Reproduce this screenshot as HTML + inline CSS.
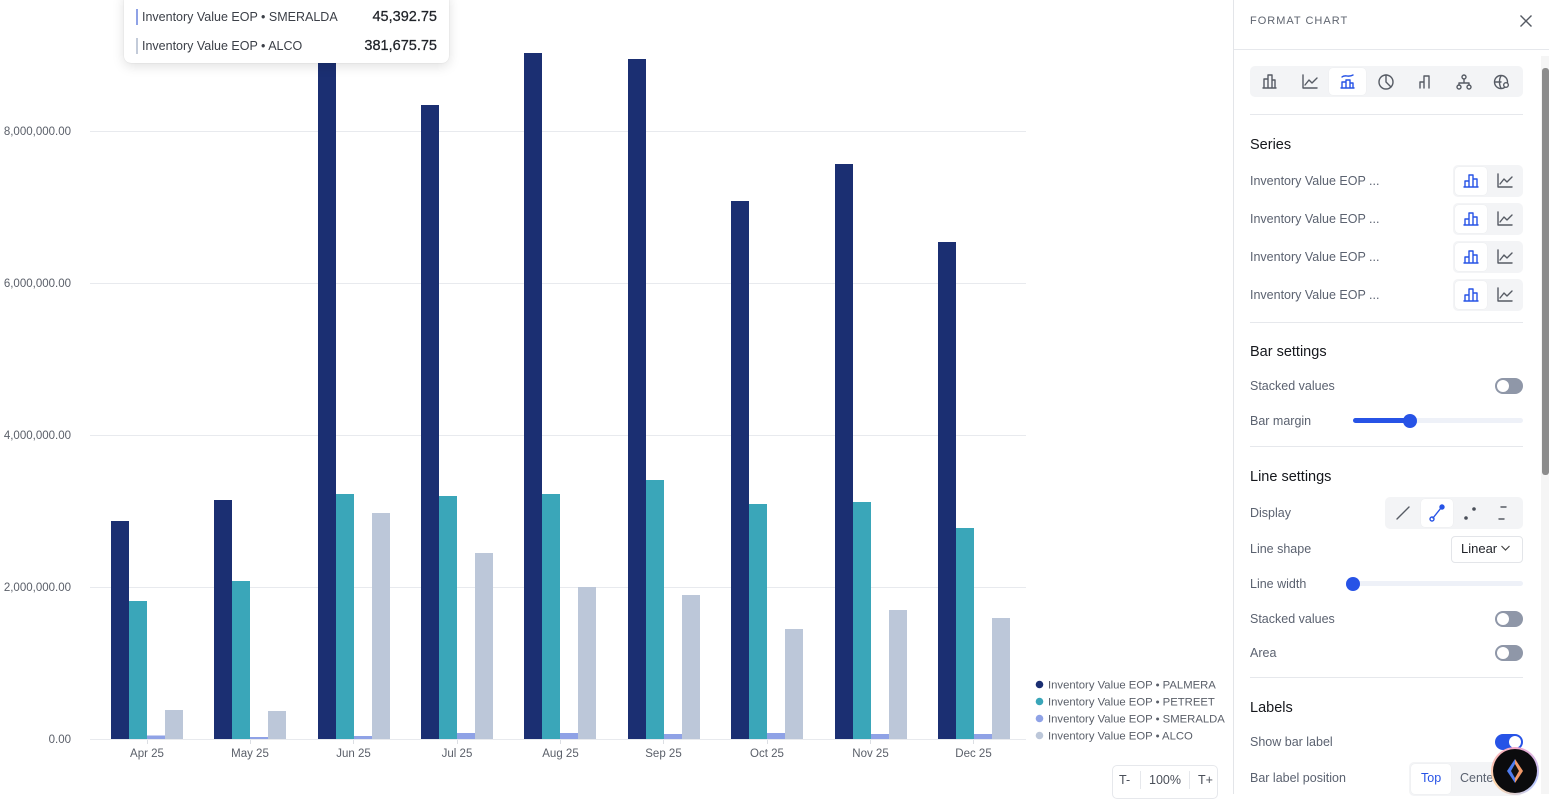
<!DOCTYPE html>
<html><head><meta charset="utf-8">
<style>
*{margin:0;padding:0;box-sizing:border-box}
html,body{width:1549px;height:794px;overflow:hidden;background:#fff;font-family:"Liberation Sans",sans-serif}
.a{position:absolute;white-space:nowrap}
.lbl{font-size:12.5px;color:#5b6270;line-height:16px}
.h{font-size:14.5px;color:#15171c;line-height:18px}
.div{position:absolute;height:1px;background:#e6e8ec}
.tog{position:absolute;width:28px;height:16px;border-radius:8px;background:#8f97a8}
.tog::after{content:"";position:absolute;top:2px;left:2px;width:12px;height:12px;border-radius:50%;background:#fff}
.tog.on{background:#2753e6}
.tog.on::after{left:14px}
.seg{position:absolute;background:#f3f4f6;border-radius:5px}
.tile{position:absolute;background:#fff;border-radius:4px;box-shadow:0 0 1px rgba(0,0,0,0.08)}
</style></head><body>

<!-- CHART -->
<svg class="a" style="left:0;top:0" width="1233" height="794" viewBox="0 0 1233 794">
  <g stroke="#e8eaee" stroke-width="1">
    <line x1="90" y1="131.5" x2="1026" y2="131.5"/>
    <line x1="90" y1="283.5" x2="1026" y2="283.5"/>
    <line x1="90" y1="435.5" x2="1026" y2="435.5"/>
    <line x1="90" y1="587.5" x2="1026" y2="587.5"/>
    <line x1="90" y1="739.5" x2="1026" y2="739.5"/>
  </g>
  <g stroke="#dcdfe4" stroke-width="1">
    <line x1="147.5" y1="740" x2="147.5" y2="744"/>
    <line x1="250.5" y1="740" x2="250.5" y2="744"/>
    <line x1="353.5" y1="740" x2="353.5" y2="744"/>
    <line x1="457.5" y1="740" x2="457.5" y2="744"/>
    <line x1="560.5" y1="740" x2="560.5" y2="744"/>
    <line x1="663.5" y1="740" x2="663.5" y2="744"/>
    <line x1="767.5" y1="740" x2="767.5" y2="744"/>
    <line x1="870.5" y1="740" x2="870.5" y2="744"/>
    <line x1="973.5" y1="740" x2="973.5" y2="744"/>
  </g>
  <g font-family="Liberation Sans, sans-serif" font-size="11.5" fill="#5a5f69" text-anchor="end">
    <text x="71" y="135">8,000,000.00</text>
    <text x="71" y="287">6,000,000.00</text>
    <text x="71" y="439">4,000,000.00</text>
    <text x="71" y="591">2,000,000.00</text>
    <text x="71" y="743">0.00</text>
  </g>
  <g font-family="Liberation Sans, sans-serif" font-size="11.5" fill="#5a5f69" text-anchor="middle">
    <text x="147" y="757">Apr 25</text>
    <text x="250" y="757">May 25</text>
    <text x="353.5" y="757">Jun 25</text>
    <text x="457" y="757">Jul 25</text>
    <text x="560.5" y="757">Aug 25</text>
    <text x="663.5" y="757">Sep 25</text>
    <text x="767" y="757">Oct 25</text>
    <text x="870.5" y="757">Nov 25</text>
    <text x="973.5" y="757">Dec 25</text>
  </g>
  <!-- bars -->
  <g fill="#1b2f72">
    <rect x="111" y="521" width="18" height="218"/>
    <rect x="214" y="500" width="18" height="239"/>
    <rect x="318" y="20" width="18" height="719"/>
    <rect x="421" y="105" width="18" height="634"/>
    <rect x="524" y="53" width="18" height="686"/>
    <rect x="628" y="59" width="18" height="680"/>
    <rect x="731" y="201" width="18" height="538"/>
    <rect x="835" y="164" width="18" height="575"/>
    <rect x="938" y="242" width="18" height="497"/>
  </g>
  <g fill="#3aa6b9">
    <rect x="129" y="601" width="18" height="138"/>
    <rect x="232" y="581" width="18" height="158"/>
    <rect x="336" y="494" width="18" height="245"/>
    <rect x="439" y="496" width="18" height="243"/>
    <rect x="542" y="494" width="18" height="245"/>
    <rect x="646" y="480" width="18" height="259"/>
    <rect x="749" y="504" width="18" height="235"/>
    <rect x="853" y="502" width="18" height="237"/>
    <rect x="956" y="528" width="18" height="211"/>
  </g>
  <g fill="#8fa2e6">
    <rect x="147" y="735.5" width="18" height="3.5"/>
    <rect x="250" y="737" width="18" height="2"/>
    <rect x="354" y="736" width="18" height="3"/>
    <rect x="457" y="733" width="18" height="6"/>
    <rect x="560" y="733" width="18" height="6"/>
    <rect x="664" y="734" width="18" height="5"/>
    <rect x="767" y="733" width="18" height="6"/>
    <rect x="871" y="734" width="18" height="5"/>
    <rect x="974" y="734" width="18" height="5"/>
  </g>
  <g fill="#bcc7d9">
    <rect x="165" y="710" width="18" height="29"/>
    <rect x="268" y="711" width="18" height="28"/>
    <rect x="372" y="513" width="18" height="226"/>
    <rect x="475" y="553" width="18" height="186"/>
    <rect x="578" y="587" width="18" height="152"/>
    <rect x="682" y="595" width="18" height="144"/>
    <rect x="785" y="629" width="18" height="110"/>
    <rect x="889" y="610" width="18" height="129"/>
    <rect x="992" y="618" width="18" height="121"/>
  </g>
  <!-- legend -->
  <circle cx="1039.5" cy="684.5" r="3.8" fill="#1b2f72"/>
  <circle cx="1039.5" cy="701.5" r="3.8" fill="#3aa6b9"/>
  <circle cx="1039.5" cy="718.5" r="3.8" fill="#8fa2e6"/>
  <circle cx="1039.5" cy="735.5" r="3.8" fill="#bcc7d9"/>
  <g font-family="Liberation Sans, sans-serif" font-size="11.3" fill="#5a5f69">
    <text x="1048" y="688.5">Inventory Value EOP • PALMERA</text>
    <text x="1048" y="705.5">Inventory Value EOP • PETREET</text>
    <text x="1048" y="722.5">Inventory Value EOP • SMERALDA</text>
    <text x="1048" y="739.5">Inventory Value EOP • ALCO</text>
  </g>
</svg>

<!-- tooltip -->
<div class="a" style="left:124px;top:-8px;width:325px;height:71px;background:#fff;border-radius:7px;box-shadow:0 3px 12px rgba(0,0,0,0.13),0 0 1px rgba(0,0,0,0.15)"></div>
<div class="a" style="left:136px;top:9px;width:2px;height:16px;background:#8fa2e6"></div>
<div class="a" style="left:136px;top:38px;width:2px;height:16px;background:#c3cbd9"></div>
<div class="a" style="left:142px;top:9px;font-size:12.5px;line-height:16px;color:#3b3f47">Inventory Value EOP • SMERALDA</div>
<div class="a" style="left:142px;top:38px;font-size:12.5px;line-height:16px;color:#3b3f47">Inventory Value EOP • ALCO</div>
<div class="a" style="right:1112px;top:8px;font-size:14.5px;line-height:18px;color:#1f2228;-webkit-text-stroke:0.25px #1f2228">45,392.75</div>
<div class="a" style="right:1112px;top:37px;font-size:14.5px;line-height:18px;color:#1f2228;-webkit-text-stroke:0.25px #1f2228">381,675.75</div>

<!-- zoom control -->
<div class="a" style="left:1112px;top:765px;width:106px;height:34px;border:1px solid #e6e8ec;border-radius:5px;background:#fff"></div>
<div class="a" style="left:1119px;top:772px;font-size:12.5px;line-height:16px;color:#4a4f59">T-</div>
<div class="a" style="left:1140px;top:771px;width:1px;height:18px;background:#e6e8ec"></div>
<div class="a" style="left:1149px;top:772px;font-size:12.5px;line-height:16px;color:#4a4f59">100%</div>
<div class="a" style="left:1189px;top:771px;width:1px;height:18px;background:#e6e8ec"></div>
<div class="a" style="left:1198px;top:772px;font-size:12.5px;line-height:16px;color:#4a4f59">T+</div>

<!-- PANEL -->
<div class="a" style="left:1233px;top:0;width:1px;height:794px;background:#e3e5e9"></div>
<div class="a" style="left:1250px;top:14px;font-size:11px;letter-spacing:1px;line-height:14px;color:#5f6570">FORMAT CHART</div>
<svg class="a" style="left:1519px;top:14px" width="14" height="14" viewBox="0 0 14 14"><path d="M1.5 1.5L12.5 12.5M12.5 1.5L1.5 12.5" stroke="#555a63" stroke-width="1.4"/></svg>
<div class="div" style="left:1234px;top:49px;width:315px"></div>

<!-- scrollbar -->
<div class="a" style="left:1541px;top:56px;width:8px;height:738px;background:#f5f5f5"></div>
<div class="a" style="left:1542px;top:68px;width:7px;height:407px;background:#8c8c8c;border-radius:3px"></div>

<!-- chart types -->
<div class="seg" style="left:1250px;top:66px;width:273px;height:31px"></div>
<div class="tile" style="left:1329px;top:68px;width:37px;height:27px"></div>
<svg class="a" style="left:1250px;top:66px" width="273" height="31" viewBox="0 0 273 31" fill="none" stroke="#565b64" stroke-width="1.4" stroke-linecap="round" stroke-linejoin="round">
  <path d="M14 22V13h4v9M18 22V9h4v13M22 22V14h3v8M13 22h13"/>
  <path d="M53 9v13h14M55 19l4-5 3 3 5-5"/>
  <g stroke="#2753e6"><path d="M92 22v-6h4v6M96 22v-8h4v8M100 22v-5h3v5M91 22h13M92 11c3-3 6 1 11-2"/></g>
  <circle cx="136" cy="16" r="7"/><path d="M136 9v7l5 5"/>
  <path d="M170 22v-6h4v6M174 22V10h5v12"/>
  <circle cx="214" cy="11" r="2"/><circle cx="209" cy="21" r="2"/><circle cx="219" cy="21" r="2"/><path d="M214 13v3M209 19v-2h10v2"/>
  <circle cx="251" cy="16" r="6.5"/><path d="M245 16h6M251 10c-2 3-2 9 0 12"/><circle cx="256" cy="19" r="2.3" fill="#fff"/>
</svg>

<div class="div" style="left:1250px;top:114px;width:273px"></div>
<div class="a h" style="left:1250px;top:136px">Series</div>

<!-- series rows -->
<div class="a lbl" style="left:1250px;top:173px">Inventory Value EOP ...</div>
<div class="a lbl" style="left:1250px;top:211px">Inventory Value EOP ...</div>
<div class="a lbl" style="left:1250px;top:249px">Inventory Value EOP ...</div>
<div class="a lbl" style="left:1250px;top:287px">Inventory Value EOP ...</div>

<div class="seg" style="left:1453px;top:165px;width:70px;height:32px"></div>
<div class="seg" style="left:1453px;top:203px;width:70px;height:32px"></div>
<div class="seg" style="left:1453px;top:241px;width:70px;height:32px"></div>
<div class="seg" style="left:1453px;top:279px;width:70px;height:32px"></div>
<div class="tile" style="left:1455px;top:167px;width:32px;height:28px"></div>
<div class="tile" style="left:1455px;top:205px;width:32px;height:28px"></div>
<div class="tile" style="left:1455px;top:243px;width:32px;height:28px"></div>
<div class="tile" style="left:1455px;top:281px;width:32px;height:28px"></div>
<svg class="a" style="left:1453px;top:165px" width="70" height="146" viewBox="0 0 70 146" fill="none" stroke-width="1.4" stroke-linecap="round" stroke-linejoin="round">
  <g stroke="#2753e6">
    <path d="M12 22v-6h4v6M16 22V10h4v12M20 22v-8h4v8M11 22h14"/>
    <path d="M12 60v-6h4v6M16 60V48h4v12M20 60v-8h4v8M11 60h14"/>
    <path d="M12 98v-6h4v6M16 98V86h4v12M20 98v-8h4v8M11 98h14"/>
    <path d="M12 136v-6h4v6M16 136v-12h4v12M20 136v-8h4v8M11 136h14"/>
  </g>
  <g stroke="#565b64">
    <path d="M45 9v13h14M47 19l4-5 3 3 5-5"/>
    <path d="M45 47v13h14M47 57l4-5 3 3 5-5"/>
    <path d="M45 85v13h14M47 95l4-5 3 3 5-5"/>
    <path d="M45 123v13h14M47 133l4-5 3 3 5-5"/>
  </g>
</svg>

<div class="div" style="left:1250px;top:322px;width:273px"></div>
<div class="a h" style="left:1250px;top:343px">Bar settings</div>
<div class="a lbl" style="left:1250px;top:378px">Stacked values</div>
<div class="tog" style="left:1495px;top:378px"></div>
<div class="a lbl" style="left:1250px;top:413px">Bar margin</div>
<div class="a" style="left:1353px;top:418px;width:170px;height:5px;border-radius:3px;background:#eef1f8"></div>
<div class="a" style="left:1353px;top:418px;width:57px;height:5px;border-radius:3px;background:#2753e6"></div>
<div class="a" style="left:1403px;top:414px;width:14px;height:14px;border-radius:50%;background:#2753e6"></div>

<div class="div" style="left:1250px;top:446px;width:273px"></div>
<div class="a h" style="left:1250px;top:468px">Line settings</div>
<div class="a lbl" style="left:1250px;top:505px">Display</div>
<div class="seg" style="left:1385px;top:497px;width:138px;height:32px"></div>
<div class="tile" style="left:1421px;top:499px;width:32px;height:28px"></div>
<svg class="a" style="left:1385px;top:497px" width="138" height="32" viewBox="0 0 138 32" fill="none" stroke-width="1.4" stroke-linecap="round">
  <path d="M12 22L24 10" stroke="#565b64"/>
  <g stroke="#2753e6"><path d="M48 21L56 11"/><circle cx="47" cy="22" r="2"/><circle cx="57" cy="10" r="2" fill="#2753e6"/></g>
  <circle cx="81" cy="21" r="1.8" fill="#4a4f59" stroke="none"/><circle cx="89" cy="12" r="1.8" fill="#4a4f59" stroke="none"/>
  <path d="M116 10h5M114 22h5" stroke="#565b64"/>
</svg>
<div class="a lbl" style="left:1250px;top:541px">Line shape</div>
<div class="a" style="left:1451px;top:536px;width:72px;height:27px;border:1px solid #e3e5e9;border-radius:4px;background:#fff"></div>
<div class="a" style="left:1461px;top:541px;font-size:13px;line-height:16px;color:#1f2228">Linear</div>
<svg class="a" style="left:1500px;top:544px" width="11" height="8" viewBox="0 0 11 8"><path d="M1.5 2l4 4 4-4" fill="none" stroke="#444" stroke-width="1.2"/></svg>
<div class="a lbl" style="left:1250px;top:576px">Line width</div>
<div class="a" style="left:1353px;top:581px;width:170px;height:5px;border-radius:3px;background:#eef1f8"></div>
<div class="a" style="left:1346px;top:577px;width:14px;height:14px;border-radius:50%;background:#2753e6"></div>
<div class="a lbl" style="left:1250px;top:611px">Stacked values</div>
<div class="tog" style="left:1495px;top:611px"></div>
<div class="a lbl" style="left:1250px;top:645px">Area</div>
<div class="tog" style="left:1495px;top:645px"></div>

<div class="div" style="left:1250px;top:677px;width:273px"></div>
<div class="a h" style="left:1250px;top:699px">Labels</div>
<div class="a lbl" style="left:1250px;top:734px">Show bar label</div>
<div class="tog on" style="left:1495px;top:734px"></div>
<div class="a lbl" style="left:1250px;top:770px">Bar label position</div>
<div class="seg" style="left:1409px;top:762px;width:114px;height:34px"></div>
<div class="tile" style="left:1411px;top:764px;width:40px;height:30px"></div>
<div class="a" style="left:1421px;top:770px;font-size:12.5px;line-height:16px;color:#2753e6">Top</div>
<div class="a" style="left:1460px;top:770px;font-size:12.5px;line-height:16px;color:#5b6270">Center</div>

<!-- floating button -->
<div class="a" style="left:1491px;top:747px;width:48px;height:48px;border-radius:50%;background:conic-gradient(#f3a6c8,#b9c8ff,#ffd6a8,#f3a6c8);"></div>
<div class="a" style="left:1493px;top:749px;width:44px;height:44px;border-radius:50%;background:#0b0b0d"></div>
<svg class="a" style="left:1503px;top:757px" width="24" height="28" viewBox="0 0 24 28">
  <path d="M12 2L4 14l8 12z" fill="#4f7df0"/>
  <path d="M12 2l8 12-8 12z" fill="#f29a6a"/>
  <path d="M12 7l-4 7 4 7 4-7z" fill="#111"/>
</svg>

</body></html>
